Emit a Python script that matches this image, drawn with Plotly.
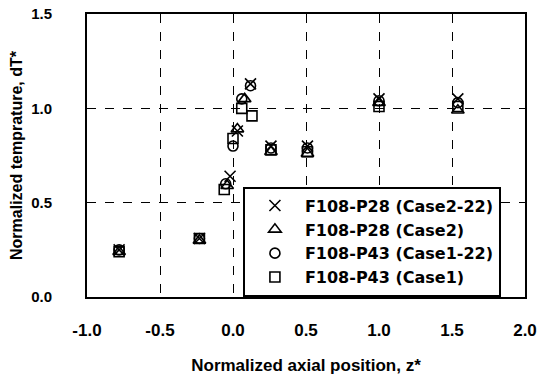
import plotly.graph_objects as go

# Normalized axial position z* and normalized temperature dT* for each case
z_case2_22 = [-0.78, -0.23, -0.02, 0.03, 0.12, 0.26, 0.51, 1.00, 1.54]
t_case2_22 = [0.25, 0.31, 0.64, 0.88, 1.13, 0.80, 0.80, 1.05, 1.05]

z_case2 = [-0.78, -0.23, -0.04, 0.03, 0.08, 0.26, 0.51, 1.00, 1.54]
t_case2 = [0.24, 0.30, 0.59, 0.89, 1.05, 0.77, 0.76, 1.03, 0.99]

z_case1_22 = [-0.78, -0.23, -0.05, 0.00, 0.06, 0.12, 0.26, 0.51, 1.00, 1.54]
t_case1_22 = [0.25, 0.31, 0.60, 0.80, 1.05, 1.12, 0.79, 0.79, 1.04, 1.03]

z_case1 = [-0.78, -0.23, -0.06, 0.00, 0.06, 0.13, 0.26, 0.51, 1.00, 1.54]
t_case1 = [0.24, 0.31, 0.57, 0.84, 1.00, 0.96, 0.78, 0.77, 1.01, 1.01]

x_ticks = [-1.0, -0.5, 0.0, 0.5, 1.0, 1.5, 2.0]
y_ticks = [0.0, 0.5, 1.0, 1.5]

series = [
    ("F108-P28 (Case2-22)", z_case2_22, t_case2_22, "x-thin-open", 11),
    ("F108-P28 (Case2)", z_case2, t_case2, "triangle-up-open", 11),
    ("F108-P43 (Case1-22)", z_case1_22, t_case1_22, "circle-open", 10),
    ("F108-P43 (Case1)", z_case1, t_case1, "square-open", 10),
]

FONT = "Liberation Sans, Arial, sans-serif"
LEGEND_FONT = "DejaVu Sans, Liberation Sans, sans-serif"

fig = go.Figure()
for name, zs, ts, sym, size in series:
    fig.add_trace(go.Scatter(
        x=zs, y=ts, mode="markers", name=name,
        marker=dict(symbol=sym, size=size, color="black",
                    line=dict(color="black", width=1.6)),
    ))

axis_common = dict(
    showgrid=True, gridcolor="black", griddash="dash", gridwidth=1.2,
    zeroline=False, showline=True, linecolor="black", linewidth=2,
    mirror=True, ticks="", automargin=False,
)

fig.update_layout(
    width=538, height=380,
    margin=dict(l=87, r=13, t=14, b=83),
    paper_bgcolor="white", plot_bgcolor="white",
    showlegend=True,
    legend=dict(
        x=0.356, y=0.39, xanchor="left", yanchor="top",
        bgcolor="white", bordercolor="black", borderwidth=2,
        font=dict(family=LEGEND_FONT, size=16, color="black", weight="bold"),
        tracegroupgap=0, itemwidth=50,
    ),
    xaxis=dict(
        range=[-1.0, 2.0], tickvals=x_ticks,
        ticktext=[f"{v:.1f}" for v in x_ticks],
        ticklabelstandoff=17,
        tickfont=dict(family=FONT, size=17, color="black", weight="bold"),
        title=dict(text="Normalized axial position, z*", standoff=20,
                   font=dict(family=FONT, size=17, color="black", weight="bold")),
        **axis_common,
    ),
    yaxis=dict(
        range=[0.0, 1.5], tickvals=y_ticks,
        ticktext=[f"{v:.1f}" for v in y_ticks],
        ticklabelstandoff=30,
        tickfont=dict(family=FONT, size=15, color="black", weight="bold"),
        title=dict(text="Normalized temprature, dT*", standoff=5,
                   font=dict(family=FONT, size=16, color="black", weight="bold")),
        **axis_common,
    ),
)

fig.write_html("out.html")
